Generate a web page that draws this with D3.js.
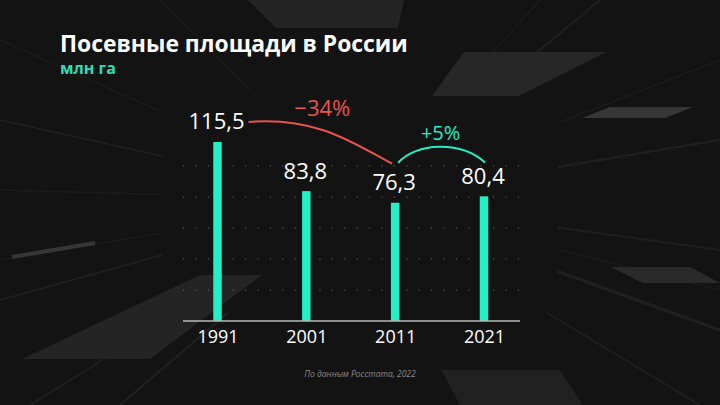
<!DOCTYPE html>
<html>
<head>
<meta charset="utf-8">
<script src="https://cdn.jsdelivr.net/npm/d3@7"></script>
<style>
  html, body { margin: 0; padding: 0; background: #131313; }
  svg { display: block; }
</style>
</head>
<body>
<svg id="chart" width="720" height="405"></svg>
<script>
// ---- data ----
const years = ["1991", "2001", "2011", "2021"];
const values = [115.5, 83.8, 76.3, 80.4];
const valueLabels = ["115,5", "83,8", "76,3", "80,4"];
const gridTicks = [20, 40, 60, 80, 100];
const changeLabels = ["−34%", "+5%"];
const titleText = "Посевные площади в России";
const unitText = "млн га";
const sourceText = "По данным Росстата, 2022";

const W = 720, H = 405;
const svg = d3.select("#chart");
const TEAL = "#22efc3";
const RED = "#e8544c";
const FONT = "'Open Sans', 'DejaVu Sans', sans-serif";

// ---- background decoration ----
const bg = svg.append("g");
bg.append("rect").attr("width", W).attr("height", H).attr("fill", "#131313");
// radial streaks (starting away from the centre)
const cx = 360, cy = 200;
const streaks = [
  [[0,120],0.05,2],[[0,300],0.05,2],[[720,140],0.06,2],
  [[720,250],0.05,2],[[720,330],0.06,3],[[600,0],0.05,2],
  [[540,0],0.04,1.5],[[120,405],0.06,2],[[30,405],0.05,2],
  [[700,405],0.05,2],[[0,190],0.04,1.5],[[0,40],0.04,1.5],
  [[160,0],0.04,1.5],[[720,60],0.04,1.5],[[720,290],0.04,1.5],[[0,260],0.04,1.5]
];
streaks.forEach(s => {
  const dx = s[0][0] - cx, dy = s[0][1] - cy;
  const t0 = 0.55;
  bg.append("line").attr("x1", cx + dx * t0).attr("y1", cy + dy * t0).attr("x2", s[0][0]).attr("y2", s[0][1])
    .attr("stroke", "#ffffff").attr("stroke-opacity", s[1]).attr("stroke-width", s[2]);
});
const polys = [
  [[[248,0],[404,0],[398,28],[276,28]], "#242424"],
  [[[464,52],[606,52],[519,96],[432,96]], "#272727"],
  [[[582,118],[610,107],[693,107],[665,118]], "#363636"],
  [[[22,359],[150,359],[262,275],[200,275]], "#242424"],
  [[[611,267],[690,267],[720,283],[643,283]], "#2a2a2a"],
  [[[441,370],[560,370],[583,405],[460,405]], "#212121"]
];
polys.forEach(p => {
  bg.append("polygon").attr("points", p[0].map(q => q.join(",")).join(" ")).attr("fill", p[1]);
});
bg.append("line").attr("x1", 12).attr("y1", 257).attr("x2", 95).attr("y2", 243)
  .attr("stroke", "#363636").attr("stroke-width", 4);

// ---- scales ----
const x = d3.scalePoint().domain(years).range([217.5, 484]);
const y = d3.scaleLinear().domain([0, 100]).range([321, 166]);
const xLeft = 183, xRight = 520;

// ---- grid (dotted) ----
const grid = svg.append("g");
gridTicks.forEach(t => {
  grid.append("line").attr("x1", xLeft).attr("x2", xRight).attr("y1", y(t)).attr("y2", y(t))
    .attr("stroke", "#6a6a6a").attr("stroke-width", 1.2).attr("stroke-dasharray", "1.2,11.2")
    .attr("stroke-linecap", "butt");
});

// ---- bars ----
const barW = 8.5;
svg.append("g").selectAll("rect").data(values).join("rect")
  .attr("x", (d, i) => x(years[i]) - barW / 2)
  .attr("y", d => y(d))
  .attr("width", barW)
  .attr("height", d => y(0) - y(d))
  .attr("fill", TEAL);

// ---- axis ----
const xAxis = svg.append("g").attr("transform", `translate(0,${y(0)})`)
  .call(d3.axisBottom(x).tickSize(0).tickPadding(22));
xAxis.select(".domain").remove();
xAxis.append("line").attr("x1", xLeft).attr("x2", xRight).attr("y1", 0).attr("y2", 0)
  .attr("stroke", "#b8b8b8").attr("stroke-width", 1.5);
xAxis.selectAll(".tick text").attr("fill", "#ffffff").attr("font-family", FONT)
  .attr("font-size", 18).attr("dy", 0);

// ---- value labels ----
svg.append("g").selectAll("text").data(values).join("text")
  .attr("x", (d, i) => x(years[i]) - 1)
  .attr("y", d => y(d) - 12.5)
  .attr("text-anchor", "middle")
  .attr("fill", "#ffffff").attr("font-family", FONT).attr("font-size", 22)
  .text((d, i) => valueLabels[i]);

// ---- change arcs ----
const x0 = x(years[0]), x2 = x(years[2]), x3 = x(years[3]);
const redStart = [x0 + 31, y(values[0]) - 20];
const redEnd = [x2 - 3, y(values[2]) - 39];
svg.append("path")
  .attr("d", `M${redStart[0]},${redStart[1]} C${redStart[0] + 70},${redStart[1] - 6} ${redEnd[0] - 35},${redEnd[1] - 18} ${redEnd[0]},${redEnd[1]}`)
  .attr("fill", "none").attr("stroke", RED).attr("stroke-width", 2);
svg.append("text").attr("x", (x0 + x2) / 2 + 16).attr("y", redStart[1] - 6)
  .attr("text-anchor", "middle").attr("fill", RED).attr("font-family", FONT).attr("font-size", 22)
  .text(changeLabels[0]);

const gStart = [x2 + 3, y(values[2]) - 40];
const gEnd = [x3 + 1, y(values[3]) - 34];
svg.append("path")
  .attr("d", `M${gStart[0]},${gStart[1]} C${gStart[0] + 18},${gStart[1] - 20} ${gEnd[0] - 25},${gEnd[1] - 22} ${gEnd[0]},${gEnd[1]}`)
  .attr("fill", "none").attr("stroke", TEAL).attr("stroke-width", 2);
svg.append("text").attr("x", (x2 + x3) / 2 + 1).attr("y", gStart[1] - 23)
  .attr("text-anchor", "middle").attr("fill", TEAL).attr("font-family", FONT).attr("font-size", 20)
  .text(changeLabels[1]);

// ---- titles ----
const title = svg.append("text").attr("x", 60).attr("y", 52).attr("fill", "#ffffff")
  .attr("font-family", FONT).attr("font-weight", 700).attr("font-size", 20).text(titleText);
// fit title width to reference (~348px)
const tw = title.node().getComputedTextLength();
title.attr("font-size", 20 * 348 / tw);

svg.append("text").attr("x", 60).attr("y", 74).attr("fill", "#2fdcb3")
  .attr("font-family", FONT).attr("font-weight", 700).attr("font-size", 16).text(unitText);

svg.append("text").attr("x", 360).attr("y", 377).attr("text-anchor", "middle")
  .attr("fill", "#8a8a8a").attr("font-family", FONT).attr("font-style", "italic")
  .attr("font-size", 8.5).text(sourceText);
</script>
</body>
</html>
